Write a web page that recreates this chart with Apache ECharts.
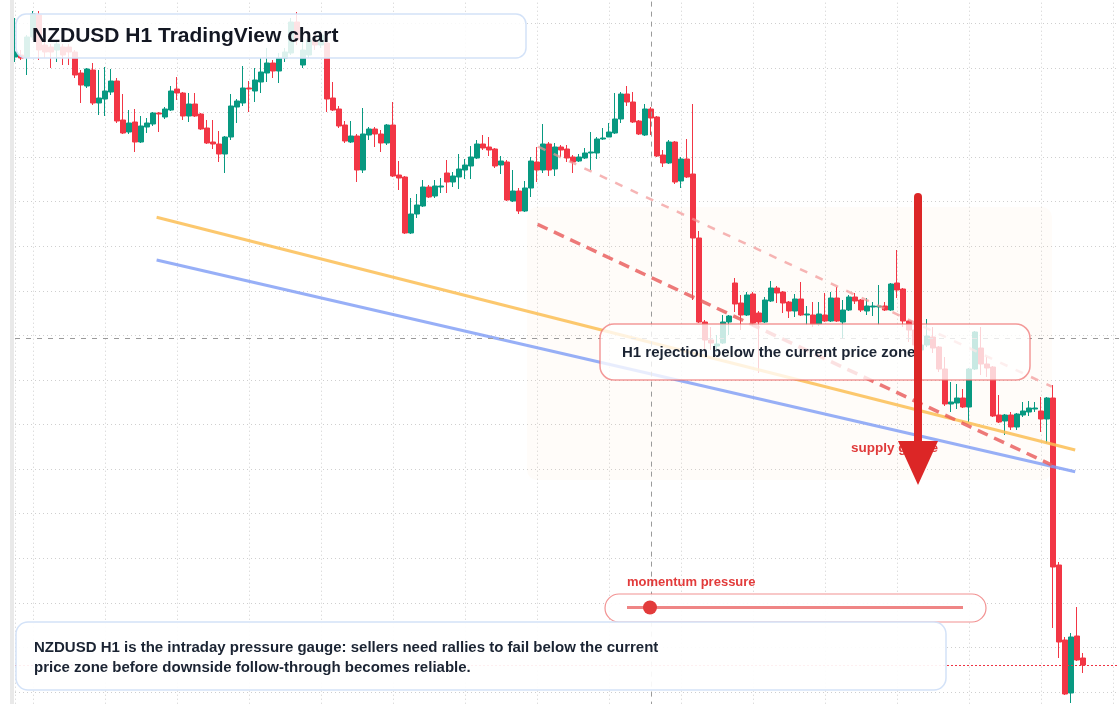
<!DOCTYPE html>
<html>
<head>
<meta charset="utf-8">
<title>NZDUSD H1 TradingView chart</title>
<script src="https://cdn.jsdelivr.net/npm/echarts@6/dist/echarts.min.js"></script>
<style>
  html, body { margin: 0; padding: 0; background: #ffffff; }
  #chart { width: 1120px; height: 704px; }
</style>
</head>
<body>
<div id="chart"></div>
<script>
// ---------------- data (NZDUSD, H1) ----------------
const TOTAL_SLOTS = 185; // 179 candles + empty space on the right
const categories = [];
(function () {
  const start = Date.UTC(2024, 4, 6, 0, 0);
  for (let i = 0; i < TOTAL_SLOTS; i++) {
    const d = new Date(start + i * 3600000);
    const p = (n) => String(n).padStart(2, '0');
    categories.push(p(d.getUTCMonth() + 1) + '-' + p(d.getUTCDate()) + ' ' + p(d.getUTCHours()) + ':00');
  }
})();

const opens = [
0.60386,0.60390,0.60386,0.60426,0.60470,0.60410,0.60406,0.60400,0.60406,0.60406,
0.60396,0.60354,0.60328,0.60360,0.60294,0.60302,0.60316,0.60338,0.60260,0.60236,
0.60256,0.60216,0.60246,0.60252,0.60274,0.60266,0.60280,0.60322,0.60314,0.60268,
0.60292,0.60272,0.60244,0.60216,0.60212,0.60192,0.60226,0.60286,0.60294,0.60324,
0.60318,0.60336,0.60354,0.60374,0.60358,0.60384,0.60394,0.60456,0.60370,0.60390,
0.60420,0.60410,0.60414,0.60304,0.60282,0.60250,0.60216,0.60228,0.60160,0.60230,
0.60242,0.60232,0.60214,0.60250,0.60150,0.60146,0.60034,0.60072,0.60088,0.60126,
0.60108,0.60126,0.60154,0.60136,0.60146,0.60160,0.60168,0.60184,0.60212,0.60206,
0.60202,0.60170,0.60176,0.60098,0.60118,0.60078,0.60124,0.60176,0.60160,0.60212,
0.60162,0.60206,0.60202,0.60186,0.60178,0.60184,0.60194,0.60194,0.60222,0.60226,
0.60234,0.60262,0.60312,0.60296,0.60258,0.60230,0.60282,0.60266,0.60190,0.60174,
0.60216,0.60138,0.60182,0.60152,0.60024,0.59856,0.59820,0.59808,0.59814,0.59856,
0.59934,0.59894,0.59870,0.59912,0.59874,0.59856,0.59898,0.59924,0.59916,0.59896,
0.59878,0.59902,0.59870,0.59870,0.59852,0.59870,0.59858,0.59904,0.59856,0.59880,
0.59906,0.59900,0.59878,0.59886,0.59886,0.59888,0.59880,0.59934,0.59922,0.59858,
0.59840,0.59800,0.59810,0.59826,0.59806,0.59762,0.59692,0.59694,0.59704,0.59686,
0.59762,0.59804,0.59772,0.59766,0.59670,0.59658,0.59670,0.59646,0.59670,0.59676,
0.59682,0.59678,0.59662,0.59704,0.59370,0.59220,0.59114,0.59228,0.59184
];
const closes = [
0.60396,0.60384,0.60426,0.60472,0.60400,0.60396,0.60396,0.60412,0.60390,0.60396,
0.60350,0.60330,0.60362,0.60294,0.60304,0.60318,0.60338,0.60258,0.60234,0.60254,
0.60216,0.60248,0.60254,0.60274,0.60272,0.60282,0.60318,0.60314,0.60268,0.60292,
0.60268,0.60242,0.60214,0.60212,0.60192,0.60226,0.60288,0.60298,0.60324,0.60322,
0.60340,0.60356,0.60374,0.60358,0.60384,0.60396,0.60456,0.60420,0.60400,0.60420,
0.60410,0.60430,0.60302,0.60280,0.60248,0.60218,0.60228,0.60160,0.60232,0.60242,
0.60232,0.60214,0.60250,0.60148,0.60144,0.60034,0.60072,0.60090,0.60126,0.60106,
0.60128,0.60128,0.60136,0.60148,0.60162,0.60170,0.60186,0.60212,0.60204,0.60200,
0.60168,0.60178,0.60100,0.60118,0.60078,0.60124,0.60178,0.60160,0.60212,0.60160,
0.60206,0.60200,0.60184,0.60176,0.60186,0.60194,0.60196,0.60222,0.60224,0.60236,
0.60262,0.60312,0.60296,0.60256,0.60232,0.60282,0.60264,0.60188,0.60174,0.60216,
0.60136,0.60182,0.60146,0.60024,0.59856,0.59820,0.59814,0.59812,0.59856,0.59868,
0.59892,0.59870,0.59910,0.59854,0.59856,0.59900,0.59924,0.59914,0.59894,0.59878,
0.59902,0.59870,0.59872,0.59852,0.59872,0.59858,0.59904,0.59858,0.59880,0.59906,
0.59898,0.59880,0.59888,0.59888,0.59888,0.59880,0.59932,0.59920,0.59858,0.59840,
0.59810,0.59810,0.59828,0.59804,0.59762,0.59692,0.59696,0.59704,0.59686,0.59762,
0.59836,0.59772,0.59764,0.59668,0.59656,0.59670,0.59646,0.59672,0.59678,0.59684,
0.59684,0.59662,0.59704,0.59366,0.59216,0.59112,0.59226,0.59180,0.59170
];
const highs = [
0.60464,0.60400,0.60430,0.60478,0.60478,0.60420,0.60412,0.60420,0.60412,0.60412,
0.60400,0.60360,0.60364,0.60374,0.60360,0.60366,0.60362,0.60344,0.60312,0.60280,
0.60282,0.60268,0.60264,0.60276,0.60276,0.60286,0.60328,0.60346,0.60316,0.60314,
0.60314,0.60274,0.60260,0.60260,0.60238,0.60228,0.60312,0.60302,0.60368,0.60338,
0.60364,0.60384,0.60404,0.60380,0.60394,0.60404,0.60464,0.60476,0.60420,0.60424,
0.60436,0.60440,0.60420,0.60336,0.60288,0.60258,0.60258,0.60232,0.60284,0.60246,
0.60246,0.60240,0.60252,0.60296,0.60178,0.60148,0.60104,0.60112,0.60140,0.60130,
0.60140,0.60144,0.60180,0.60156,0.60192,0.60182,0.60208,0.60220,0.60230,0.60226,
0.60204,0.60188,0.60180,0.60160,0.60124,0.60138,0.60186,0.60206,0.60252,0.60216,
0.60214,0.60210,0.60210,0.60190,0.60192,0.60204,0.60236,0.60226,0.60244,0.60254,
0.60314,0.60316,0.60328,0.60316,0.60260,0.60292,0.60286,0.60268,0.60200,0.60220,
0.60218,0.60186,0.60222,0.60292,0.60038,0.59860,0.59846,0.59830,0.59870,0.59870,
0.59944,0.59910,0.59916,0.59916,0.59878,0.59906,0.59938,0.59928,0.59918,0.59898,
0.59912,0.59936,0.59888,0.59896,0.59896,0.59914,0.59916,0.59926,0.59900,0.59910,
0.59914,0.59902,0.59904,0.59896,0.59930,0.59896,0.59934,0.60000,0.59924,0.59860,
0.59850,0.59826,0.59862,0.59846,0.59808,0.59786,0.59736,0.59732,0.59722,0.59764,
0.59838,0.59846,0.59786,0.59768,0.59710,0.59672,0.59676,0.59674,0.59696,0.59698,
0.59696,0.59706,0.59706,0.59730,0.59376,0.59226,0.59234,0.59286,0.59194
];
const lows = [
0.60376,0.60380,0.60350,0.60420,0.60380,0.60384,0.60364,0.60376,0.60370,0.60370,
0.60344,0.60294,0.60324,0.60290,0.60270,0.60268,0.60310,0.60254,0.60232,0.60232,
0.60196,0.60214,0.60234,0.60248,0.60236,0.60262,0.60278,0.60300,0.60260,0.60256,
0.60266,0.60240,0.60212,0.60202,0.60176,0.60154,0.60220,0.60254,0.60288,0.60276,
0.60296,0.60314,0.60336,0.60344,0.60334,0.60376,0.60390,0.60410,0.60364,0.60384,
0.60400,0.60404,0.60276,0.60278,0.60244,0.60214,0.60214,0.60136,0.60154,0.60220,
0.60206,0.60196,0.60210,0.60146,0.60120,0.60032,0.60032,0.60064,0.60086,0.60104,
0.60104,0.60114,0.60114,0.60126,0.60122,0.60142,0.60142,0.60182,0.60200,0.60188,
0.60164,0.60152,0.60098,0.60096,0.60072,0.60076,0.60106,0.60136,0.60154,0.60148,
0.60148,0.60186,0.60176,0.60154,0.60176,0.60182,0.60160,0.60182,0.60220,0.60226,
0.60232,0.60254,0.60288,0.60254,0.60230,0.60228,0.60230,0.60186,0.60166,0.60172,
0.60132,0.60124,0.60144,0.59900,0.59854,0.59800,0.59800,0.59796,0.59812,0.59830,
0.59876,0.59840,0.59868,0.59848,0.59754,0.59854,0.59896,0.59894,0.59874,0.59864,
0.59866,0.59868,0.59850,0.59846,0.59848,0.59856,0.59856,0.59856,0.59824,0.59878,
0.59892,0.59876,0.59870,0.59868,0.59850,0.59878,0.59878,0.59904,0.59846,0.59816,
0.59800,0.59796,0.59806,0.59794,0.59756,0.59688,0.59676,0.59682,0.59684,0.59656,
0.59760,0.59750,0.59746,0.59666,0.59654,0.59630,0.59640,0.59640,0.59666,0.59668,
0.59676,0.59636,0.59614,0.59244,0.59184,0.59110,0.59094,0.59178,0.59154
];

// overlay lines: [candle index, price]
const maSlow = [[23.6, 0.600654], [176.7, 0.596000]];
const maFast = [[23.6, 0.599800], [176.7, 0.595566]];
const channelUpper = [[87.2, 0.602066], [172.8, 0.597266]];
const channelLower = [[87.1, 0.600514], [172.8, 0.595700]];

const crosshairIndex = 106;
const crosshairPrice = 0.59824;

const priceMin = 0.590268;
const priceMax = 0.605426;

// ---------------- chart ----------------
const candleData = opens.map((o, i) => [o, closes[i], lows[i], highs[i]]);
const lastClose = closes[closes.length - 1];

const UP = '#089981', DOWN = '#F23645';
const FONT = '"Liberation Sans", Arial, sans-serif';
const gridDots = { color: '#cfcfcf', width: 1, type: [1, 3] };

const chart = echarts.init(document.getElementById('chart'), null, { renderer: 'canvas' });

const option = {
  animation: false,
  backgroundColor: '#ffffff',
  grid: { left: 15, right: 1, top: -21.3, bottom: -32.6, containLabel: false, outerBoundsMode: 'none' },
  xAxis: [
    {
      type: 'category', data: categories, boundaryGap: false,
      axisLine: { show: false }, axisTick: { show: false }, axisLabel: { show: false },
      splitLine: { show: true, interval: (i) => i === 0 || i % 12 === 3, lineStyle: gridDots }
    },
    {
      type: 'value', min: 0, max: TOTAL_SLOTS - 1, show: false,
      splitLine: { show: false }
    }
  ],
  yAxis: [
    {
      type: 'value', min: priceMin, max: priceMax, scale: true,
      axisLine: { show: false }, axisTick: { show: false }, axisLabel: { show: false },
      splitLine: { show: false }
    },
    {
      type: 'value', min: 0, max: 17, interval: 1,
      axisLine: { show: false }, axisTick: { show: false }, axisLabel: { show: false },
      splitLine: { show: true, lineStyle: gridDots }
    }
  ],
  series: [
    {
      type: 'candlestick', name: 'NZDUSD H1',
      xAxisIndex: 0, yAxisIndex: 0,
      data: candleData, barWidth: 4.6, clip: false,
      itemStyle: { color: UP, color0: DOWN, borderColor: UP, borderColor0: DOWN, borderColorDoji: UP, borderWidth: 1 },
      markLine: {
        silent: true, symbol: ['none', 'none'], label: { show: false }, animation: false, precision: 6,
        data: [
          { xAxis: crosshairIndex, lineStyle: { color: '#9a9a9a', width: 1, type: [5, 5] } },
          { yAxis: crosshairPrice, lineStyle: { color: '#9a9a9a', width: 1, type: [5, 6] } },
          { yAxis: lastClose, lineStyle: { color: '#ee3344', width: 1, type: [2, 2] } }
        ]
      }
    },
    {
      type: 'line', name: 'slow', xAxisIndex: 1, yAxisIndex: 0, data: maSlow,
      showSymbol: false, silent: true,
      lineStyle: { color: 'rgba(251,190,85,0.85)', width: 3 }
    },
    {
      type: 'line', name: 'fast', xAxisIndex: 1, yAxisIndex: 0, data: maFast,
      showSymbol: false, silent: true,
      lineStyle: { color: 'rgba(125,155,245,0.8)', width: 3 }
    },
    {
      type: 'line', name: 'channel top', xAxisIndex: 1, yAxisIndex: 0, data: channelUpper,
      showSymbol: false, silent: true,
      lineStyle: { color: 'rgba(242,150,150,0.7)', width: 2.5, type: [8, 9] }
    },
    {
      type: 'line', name: 'channel bottom', xAxisIndex: 1, yAxisIndex: 0, data: channelLower,
      showSymbol: false, silent: true,
      lineStyle: { color: 'rgba(232,88,88,0.8)', width: 3.5, type: [11, 7] }
    }
  ],
  graphic: {
    elements: [
      // supply zone shading
      { type: 'rect', z: 1, silent: true, shape: { x: 527, y: 207, width: 525, height: 273, r: 10 },
        style: { fill: 'rgba(250,215,180,0.08)' } },
      // left panel edge
      { type: 'rect', z: 150, silent: true, shape: { x: 10, y: 0, width: 4, height: 704 },
        style: { fill: '#e9e9e9' } },
      // title box
      { type: 'rect', z: 100, silent: true, shape: { x: 16, y: 14, width: 510, height: 44, r: 10 },
        style: { fill: 'rgba(255,255,255,0.86)', stroke: '#d3e2f8', lineWidth: 1.5 } },
      { type: 'text', z: 101, silent: true,
        style: { text: 'NZDUSD H1 TradingView chart', x: 32, y: 36, font: 'bold 21px ' + FONT,
                 fill: '#131722', textVerticalAlign: 'middle' } },
      // rejection label
      { type: 'rect', z: 100, silent: true, shape: { x: 600, y: 324, width: 430, height: 56, r: 14 },
        style: { fill: 'rgba(255,255,255,0.78)', stroke: 'rgba(238,110,110,0.7)', lineWidth: 1.5 } },
      { type: 'text', z: 101, silent: true,
        style: { text: 'H1 rejection below the current price zone', x: 622, y: 353, font: 'bold 15px ' + FONT,
                 fill: '#1b2433', textVerticalAlign: 'middle' } },
      // supply label
      { type: 'text', z: 110, silent: true,
        style: { text: 'supply gauge', x: 851, y: 448, font: 'bold 13.5px ' + FONT,
                 fill: '#e03a3a', textVerticalAlign: 'middle' } },
      // arrow
      { type: 'line', z: 120, silent: true, shape: { x1: 918, y1: 197, x2: 918, y2: 446 },
        style: { stroke: '#dc2626', lineWidth: 8, lineCap: 'round' } },
      { type: 'polygon', z: 120, silent: true, shape: { points: [[898, 441], [938, 441], [918, 485]] },
        style: { fill: '#dc2626' } },
      // momentum gauge
      { type: 'text', z: 101, silent: true,
        style: { text: 'momentum pressure', x: 627, y: 582, font: 'bold 13px ' + FONT,
                 fill: '#e23b3b', textVerticalAlign: 'middle' } },
      { type: 'rect', z: 100, silent: true, shape: { x: 605, y: 594, width: 381, height: 28, r: 14 },
        style: { fill: 'rgba(255,255,255,0.9)', stroke: 'rgba(238,110,110,0.75)', lineWidth: 1.2 } },
      { type: 'line', z: 101, silent: true, shape: { x1: 627, y1: 607.5, x2: 963, y2: 607.5 },
        style: { stroke: '#ef8585', lineWidth: 3 } },
      { type: 'circle', z: 102, silent: true, shape: { cx: 650, cy: 607.5, r: 7 },
        style: { fill: '#e23b3b' } },
      // bottom note
      { type: 'rect', z: 100, silent: true, shape: { x: 16, y: 622, width: 930, height: 68, r: 12 },
        style: { fill: 'rgba(255,255,255,0.92)', stroke: '#d3e2f8', lineWidth: 1.5 } },
      { type: 'text', z: 101, silent: true,
        style: { text: 'NZDUSD H1 is the intraday pressure gauge: sellers need rallies to fail below the current',
                 x: 34, y: 647.5, font: 'bold 15px ' + FONT, fill: '#1b2433', textVerticalAlign: 'middle' } },
      { type: 'text', z: 101, silent: true,
        style: { text: 'price zone before downside follow-through becomes reliable.',
                 x: 34, y: 667.5, font: 'bold 15px ' + FONT, fill: '#1b2433', textVerticalAlign: 'middle' } }
    ]
  }
};

chart.setOption(option);
</script>
</body>
</html>
